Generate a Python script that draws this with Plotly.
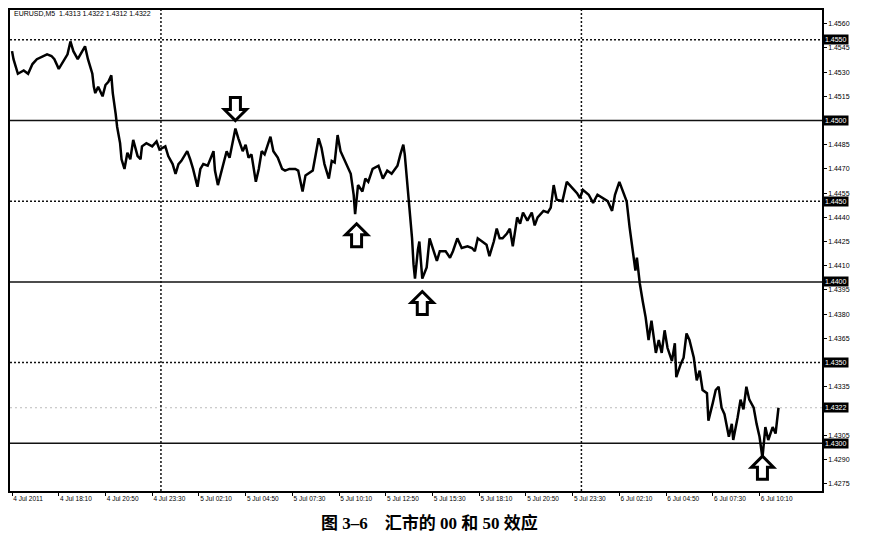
import plotly.graph_objects as go

# ---- data ----
bar_index = [0, 1, 4, 8, 11, 14, 17, 21, 24, 27, 29, 32, 34, 38, 40, 42, 45, 47, 50, 52,
             55, 56, 57, 59, 62, 64, 66, 68, 69, 71, 72, 74, 75, 77, 79, 81, 83, 86, 88, 89,
             92, 96, 99, 101, 105, 107, 110, 112, 114, 116, 120, 122, 124, 127, 129, 131, 134, 138, 139, 141,
             145, 147, 149, 153, 155, 158, 160, 162, 164, 167, 169, 171, 173, 177, 179, 182, 185, 187, 190, 194,
             196, 199, 201, 203, 206, 208, 210, 212, 214, 217, 219, 221, 223, 225, 227, 229, 232, 234, 235, 237,
             240, 242, 244, 247, 251, 254, 257, 260, 264, 266, 268, 269, 271, 272, 273, 274, 275, 276, 278, 279,
             281, 284, 286, 288, 291, 293, 297, 300, 302, 305, 308, 312, 315, 317, 319, 322, 325, 327, 330, 332,
             334, 336, 339, 341, 343, 346, 348, 350, 353, 356, 358, 360, 364, 367, 369, 371, 373, 377, 380, 384,
             387, 389, 391, 395, 398, 401, 405, 408, 411, 413, 416, 419, 421, 423, 425, 427, 428, 430, 432, 434,
             436, 438, 441, 443, 445, 447, 449, 452, 454, 455, 458, 460, 462, 464, 467, 469, 471, 473, 476, 477,
             480, 482, 484, 486, 488, 491, 493, 494, 497, 499, 501, 503, 505, 508, 510, 512, 514, 516, 518, 521,
             523, 525]
close = [1.4543, 1.4538, 1.4529, 1.4531, 1.4529, 1.4535, 1.4538, 1.4540, 1.4541, 1.4540, 1.4538, 1.4532, 1.4535, 1.4541, 1.4549, 1.4543, 1.4538, 1.4541, 1.4546, 1.4538,
         1.4529, 1.4521, 1.4517, 1.4521, 1.4515, 1.4522, 1.4524, 1.4528, 1.4517, 1.4504, 1.4496, 1.4486, 1.4476, 1.4470, 1.4480, 1.4476, 1.4488, 1.4478, 1.4476, 1.4484,
         1.4486, 1.4484, 1.4487, 1.4482, 1.4484, 1.4478, 1.4473, 1.4467, 1.4473, 1.4475, 1.4481, 1.4476, 1.4470, 1.4459, 1.4470, 1.4473, 1.4472, 1.4481, 1.4469, 1.4460,
         1.4473, 1.4481, 1.4477, 1.4495, 1.4489, 1.4481, 1.4485, 1.4477, 1.4479, 1.4462, 1.4470, 1.4481, 1.4479, 1.4490, 1.4481, 1.4477, 1.4470, 1.4469, 1.4470, 1.4470,
         1.4469, 1.4456, 1.4466, 1.4467, 1.4469, 1.4479, 1.4489, 1.4483, 1.4473, 1.4464, 1.4475, 1.4474, 1.4491, 1.4481, 1.4477, 1.4473, 1.4467, 1.4454, 1.4442, 1.4460,
         1.4456, 1.4464, 1.4462, 1.4470, 1.4472, 1.4464, 1.4469, 1.4467, 1.4472, 1.4479, 1.4485, 1.4479, 1.4458, 1.4452, 1.4442, 1.4427, 1.4411, 1.4402, 1.4420, 1.4425,
         1.4402, 1.4409, 1.4427, 1.4421, 1.4413, 1.4419, 1.4419, 1.4415, 1.4419, 1.4427, 1.4421, 1.4422, 1.4421, 1.4419, 1.4427, 1.4425, 1.4423, 1.4416, 1.4425, 1.4433,
         1.4427, 1.4427, 1.4430, 1.4433, 1.4422, 1.4440, 1.4436, 1.4443, 1.4438, 1.4443, 1.4435, 1.4440, 1.4444, 1.4443, 1.4446, 1.4460, 1.4451, 1.4450, 1.4462, 1.4458,
         1.4455, 1.4452, 1.4457, 1.4454, 1.4449, 1.4454, 1.4452, 1.4450, 1.4444, 1.4454, 1.4462, 1.4454, 1.4450, 1.4434, 1.4419, 1.4407, 1.4415, 1.4399, 1.4388, 1.4378,
         1.4364, 1.4376, 1.4356, 1.4364, 1.4356, 1.4370, 1.4359, 1.4351, 1.4362, 1.4341, 1.4349, 1.4353, 1.4368, 1.4364, 1.4353, 1.4339, 1.4345, 1.4333, 1.4331, 1.4314,
         1.4325, 1.4333, 1.4335, 1.4322, 1.4318, 1.4304, 1.4312, 1.4302, 1.4316, 1.4327, 1.4321, 1.4335, 1.4327, 1.4322, 1.4312, 1.4304, 1.4291, 1.4310, 1.4302, 1.4310,
         1.4306, 1.4322]

x_tick_index = [0, 32, 64, 96, 128, 160, 192, 224, 256, 288, 320, 352, 384, 416, 448, 480, 512]
x_tick_text = ["4 Jul 2011", "4 Jul 18:10", "4 Jul 20:50", "4 Jul 23:30", "5 Jul 02:10", "5 Jul 04:50",
               "5 Jul 07:30", "5 Jul 10:10", "5 Jul 12:50", "5 Jul 15:30", "5 Jul 18:10", "5 Jul 20:50",
               "5 Jul 23:30", "6 Jul 02:10", "6 Jul 04:50", "6 Jul 07:30", "6 Jul 10:10"]
# price scale labels (1.4320, 1.4350 and 1.4500 are hidden under the highlighted boxes)
y_ticks = [1.4275, 1.4290, 1.4305, 1.4335, 1.4365, 1.4380, 1.4395, 1.4410,
           1.4425, 1.4440, 1.4455, 1.4470, 1.4485, 1.4515, 1.4530, 1.4545, 1.4560]

solid_levels = [1.4500, 1.4400, 1.4300]
dotted_levels = [1.4550, 1.4450, 1.4350]
bid_level = 1.4322
day_separators = [102, 390]
highlight_labels = [1.4550, 1.4500, 1.4450, 1.4400, 1.4350, 1.4322, 1.4300]

# arrow tips (bar index, price)
down_arrows = [(153, 1.4500)]
up_arrows = [(236, 1.4436), (281, 1.4394), (514, 1.4292)]

title_text = "EURUSD,M5  1.4313 1.4322 1.4312 1.4322"
caption = "图 3–6　汇市的 00 和 50 效应"

# ---- figure ----
fig = go.Figure()
fig.add_trace(go.Scatter(x=bar_index, y=close, mode="lines",
                         line=dict(color="black", width=2.5), hoverinfo="skip",
                         showlegend=False))

shapes = []
for lv in solid_levels:
    shapes.append(dict(type="line", xref="paper", x0=0, x1=1, yref="y", y0=lv, y1=lv,
                       line=dict(color="#111", width=1.5), layer="below"))
for lv in dotted_levels:
    shapes.append(dict(type="line", xref="paper", x0=0, x1=1, yref="y", y0=lv, y1=lv,
                       line=dict(color="#111", width=1.5, dash="2px,2px"), layer="below"))
shapes.append(dict(type="line", xref="paper", x0=0, x1=1, yref="y", y0=bid_level, y1=bid_level,
                   line=dict(color="#bbb", width=1, dash="2px,3px"), layer="below"))
for d in day_separators:
    shapes.append(dict(type="line", xref="x", x0=d, x1=d, yref="paper", y0=0, y1=1,
                       line=dict(color="#111", width=1.5, dash="2px,2px"), layer="below"))

# hollow block arrows, drawn in pixel units around their tip
UP_PATH = "M 0 0 L 11 -11 L 5 -11 L 5 -23 L -5 -23 L -5 -11 L -11 -11 Z"
DOWN_PATH = "M 0 0 L 11 11 L 5 11 L 5 23 L -5 23 L -5 11 L -11 11 Z"
for (xi, yv) in up_arrows:
    shapes.append(dict(type="path", xref="x", yref="y", xsizemode="pixel", ysizemode="pixel",
                       xanchor=xi, yanchor=yv, path=UP_PATH, fillcolor="white",
                       line=dict(color="black", width=3)))
for (xi, yv) in down_arrows:
    shapes.append(dict(type="path", xref="x", yref="y", xsizemode="pixel", ysizemode="pixel",
                       xanchor=xi, yanchor=yv, path=DOWN_PATH, fillcolor="white",
                       line=dict(color="black", width=3)))

annotations = []
for lv in highlight_labels:
    annotations.append(dict(xref="paper", x=1.0, xanchor="left", yref="y", y=lv, yanchor="middle",
                            text=f"{lv:.4f}", showarrow=False, bgcolor="black",
                            font=dict(color="white", size=7, family="Liberation Sans"),
                            borderpad=1, xshift=1))
annotations.append(dict(xref="paper", yref="paper", x=0.003, y=1.0, xanchor="left", yanchor="top",
                        yshift=2, text=title_text, showarrow=False,
                        font=dict(size=7, color="black", family="Liberation Sans")))
annotations.append(dict(xref="paper", yref="paper", x=0.517, y=-0.0663, xanchor="center", yanchor="middle",
                        text="<b>" + caption + "</b>", showarrow=False,
                        font=dict(size=17, color="black", family="Liberation Serif, Noto Sans CJK SC")))

# page body has an 8px default margin, so margins are offset to keep the plot where it is in the picture
fig.update_layout(
    width=871, height=543,
    margin=dict(l=2, r=57, t=0, b=60),
    paper_bgcolor="white", plot_bgcolor="white",
    shapes=shapes, annotations=annotations,
    xaxis=dict(range=[-1.4, 554.8], tickvals=x_tick_index, ticktext=x_tick_text,
               ticklabelposition="outside right", ticks="outside", ticklen=3, tickcolor="black",
               showgrid=False, zeroline=False, showline=True, linecolor="black", linewidth=1.5,
               mirror=True, tickfont=dict(size=6.5, color="black", family="Liberation Sans")),
    yaxis=dict(range=[1.42704, 1.45685], side="right", tickvals=y_ticks, tickformat=".4f",
               ticks="outside", ticklen=3, tickcolor="black",
               showgrid=False, zeroline=False, showline=True, linecolor="black", linewidth=1.5,
               mirror=True, tickfont=dict(size=7, color="black", family="Liberation Sans")),
)

fig.write_html("out.html")
